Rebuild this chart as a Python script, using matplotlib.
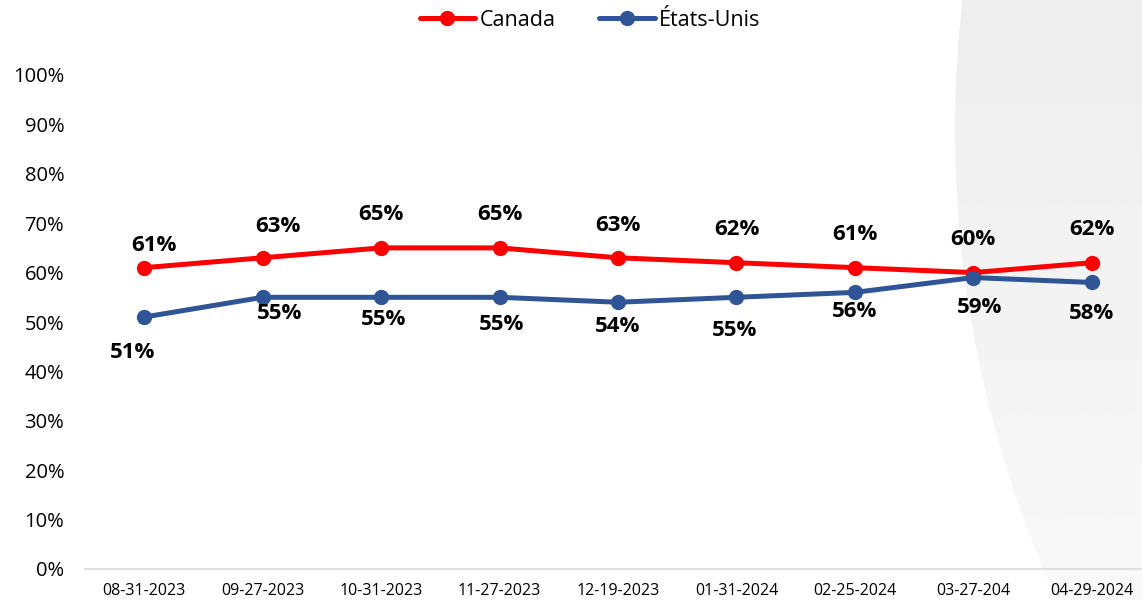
import numpy as np
import matplotlib.pyplot as plt
from matplotlib.patches import Circle
from matplotlib.ticker import PercentFormatter

# Données
dates = ["08-31-2023", "09-27-2023", "10-31-2023", "11-27-2023", "12-19-2023",
         "01-31-2024", "02-25-2024", "03-27-204", "04-29-2024"]
canada = [61, 63, 65, 65, 63, 62, 61, 60, 62]
etats_unis = [51, 55, 55, 55, 54, 55, 56, 59, 58]

# décalages des étiquettes (pixels), placés à la main comme dans Excel
off_canada = [(10, 22), (15, 31), (0, 33), (0, 33), (0, 32), (0, 33), (0, 33), (0, 33), (0, 33)]
off_eu = [(-12, -35), (17, -16), (2, -22), (2, -27), (0, -24), (-2, -33), (0, -19), (6, -30), (0, -31)]

plt.rcParams['font.family'] = ['Open Sans', 'DejaVu Sans']

fig = plt.figure(figsize=(11.42, 6.0), dpi=100)

# forme grise en arrière-plan (arc à droite)
bg = fig.add_axes([0, 0, 1, 1], zorder=0)
bg.axis('off')
R = 1134
arc = Circle((955 + R, 130), R, facecolor='none', edgecolor='none')
bg.add_patch(arc)
grad = np.linspace(0.93, 0.975, 256).reshape(-1, 1)
im = bg.imshow(grad, cmap='gray', vmin=0, vmax=1, extent=[900, 1142, 600, 0], aspect='auto')
im.set_clip_path(arc)
bg.set_xlim(0, 1142)
bg.set_ylim(600, 0)

ax = fig.add_axes([85 / 1142, 31 / 600, 1066 / 1142, 494 / 600], zorder=1)
ax.patch.set_alpha(0)
x = np.arange(len(dates))

ax.plot(x, canada, color='#FF0000', lw=3.6, marker='o', ms=10, label='Canada', solid_capstyle='round')
ax.plot(x, etats_unis, color='#2F5597', lw=3.6, marker='o', ms=10, label='États-Unis', solid_capstyle='round')

for i in x:
    ax.annotate(f"{canada[i]}%", (i, canada[i]), xytext=off_canada[i], textcoords='offset pixels',
                ha='center', va='center', fontsize=16, fontweight='bold', color='black')
    ax.annotate(f"{etats_unis[i]}%", (i, etats_unis[i]), xytext=off_eu[i], textcoords='offset pixels',
                ha='center', va='center', fontsize=16, fontweight='bold', color='black')

ax.set_xlim(-0.5, len(dates) - 0.5)
ax.set_ylim(0, 100)
ax.set_yticks(np.arange(0, 101, 10))
ax.yaxis.set_major_formatter(PercentFormatter(decimals=0))
ax.set_xticks(x)
ax.set_xticklabels(dates, fontsize=11.5)
ax.tick_params(axis='y', length=0, labelsize=14.5, pad=15)
ax.tick_params(axis='x', length=0, pad=10)
for s in ['top', 'right', 'left']:
    ax.spines[s].set_visible(False)
ax.spines['bottom'].set_color('#d9d9d9')
ax.spines['bottom'].set_linewidth(1.2)

fig.legend(loc='center', bbox_to_anchor=(590 / 1142, 1 - 20 / 600), ncol=2, frameon=False,
           fontsize=15.5, handlelength=2.6, columnspacing=2.0, handletextpad=0.2)

fig.savefig('out.png', dpi=100)
